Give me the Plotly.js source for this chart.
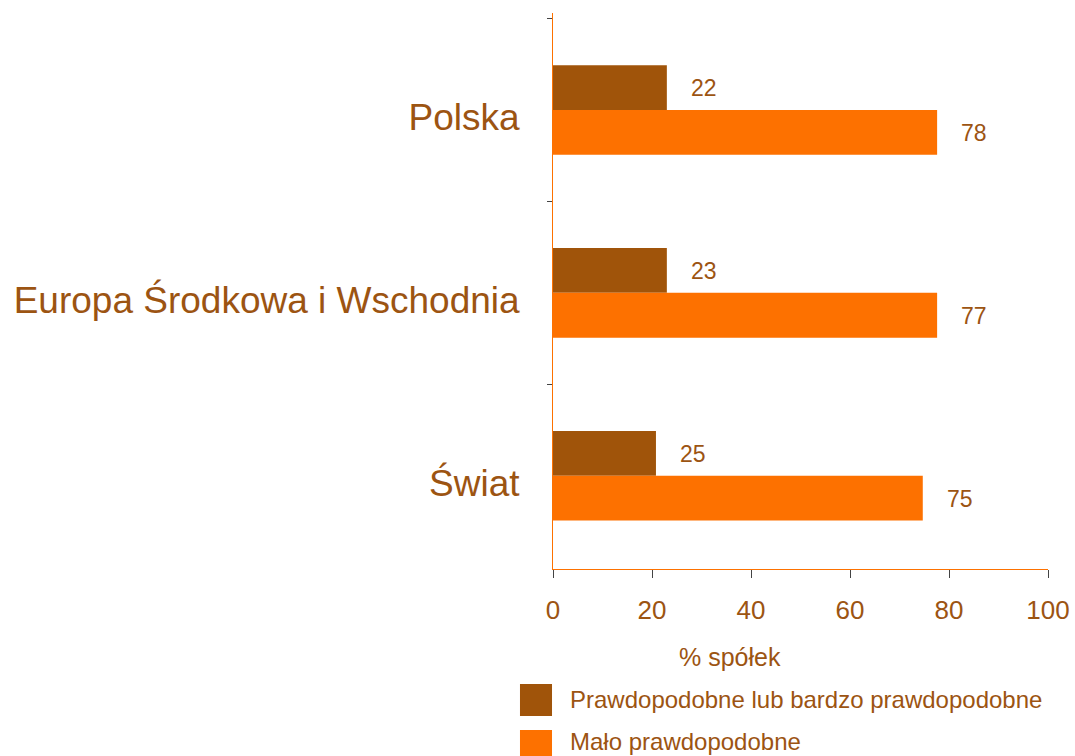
<!DOCTYPE html>
<html>
<head>
<meta charset="utf-8">
<script src="https://cdn.plot.ly/plotly-3.0.1.min.js"></script>
<style>html,body{margin:0;padding:0;background:#fff;}#chart{width:1075px;height:756px;}</style>
</head>
<body>
<div id="chart"></div>
<script>
var categories = ["Polska", "Europa Środkowa i Wschodnia", "Świat"];
var seriesNames = ["Prawdopodobne lub bardzo prawdopodobne", "Mało prawdopodobne"];
var likelyValues = [23, 23, 20.8];
var unlikelyValues = [77.6, 77.6, 74.7];
var likelyLabels = ["22", "23", "25"];
var unlikelyLabels = ["78", "77", "75"];
var xTicks = [0, 20, 40, 60, 80, 100];
var axisTitle = "% spółek";

var brown = "#A0540A";
var orange = "#FD7100";
var textColor = "#9C5412";
var font = "Liberation Sans, Arial, sans-serif";

var traces = [
  {type: "bar", orientation: "h", name: seriesNames[0], y: categories, x: likelyValues,
   marker: {color: brown}, hoverinfo: "none"},
  {type: "bar", orientation: "h", name: seriesNames[1], y: categories, x: unlikelyValues,
   marker: {color: orange}, hoverinfo: "none"}
];

var annotations = [];
function addLabels(vals, labels, shiftY) {
  for (var i = 0; i < categories.length; i++) {
    annotations.push({x: vals[i], y: categories[i], xref: "x", yref: "y", text: labels[i],
      showarrow: false, xanchor: "left", xshift: 22, yshift: shiftY,
      font: {family: font, size: 23, color: textColor}});
  }
}
addLabels(likelyValues, likelyLabels, 22);
addLabels(unlikelyValues, unlikelyLabels, -23);

annotations.push({x: 0.3576, y: -0.158, xref: "paper", yref: "paper", text: axisTitle,
  showarrow: false, xanchor: "center", yanchor: "middle",
  font: {family: font, size: 25, color: textColor}});

var colors = [brown, orange];
var shapes = [];
var legendY = [[-0.2068, -0.2644], [-0.2896, -0.347]];
var legendTextY = [-0.2356, -0.311];
for (var k = 0; k < seriesNames.length; k++) {
  shapes.push({type: "rect", xref: "paper", yref: "paper", x0: -0.0667, x1: -0.002,
    y0: legendY[k][0], y1: legendY[k][1], fillcolor: colors[k], line: {width: 0}});
  annotations.push({x: 0.0303, y: legendTextY[k], xref: "paper", yref: "paper",
    text: seriesNames[k], showarrow: false, xanchor: "left", yanchor: "middle",
    font: {family: font, size: 24, color: textColor}});
}

var layout = {
  width: 1075, height: 756,
  margin: {l: 553, r: 27, t: 13, b: 187},
  paper_bgcolor: "#fff", plot_bgcolor: "#fff",
  barmode: "group", bargap: 0.51, bargroupgap: 0,
  showlegend: false,
  font: {family: font, color: textColor},
  xaxis: {range: [0, 100], tickvals: xTicks, showgrid: false, zeroline: false,
    showline: true, linecolor: orange, linewidth: 1,
    ticks: "outside", ticklen: 8, tickcolor: "#444", tickwidth: 1,
    ticklabelstandoff: 10,
    tickfont: {family: font, size: 26, color: textColor}, fixedrange: true},
  yaxis: {range: [2.51, -0.53], type: "category", showgrid: false, zeroline: false,
    showline: true, linecolor: orange, linewidth: 1,
    ticks: "outside", ticklen: 5, tickcolor: "#444", tickwidth: 1, tickson: "boundaries",
    ticklabelstandoff: 25, ticklabelshift: -7,
    tickfont: {family: font, size: 37, color: textColor}, fixedrange: true},
  annotations: annotations,
  shapes: shapes
};

Plotly.newPlot("chart", traces, layout, {displayModeBar: false, staticPlot: true});
</script>
</body>
</html>
